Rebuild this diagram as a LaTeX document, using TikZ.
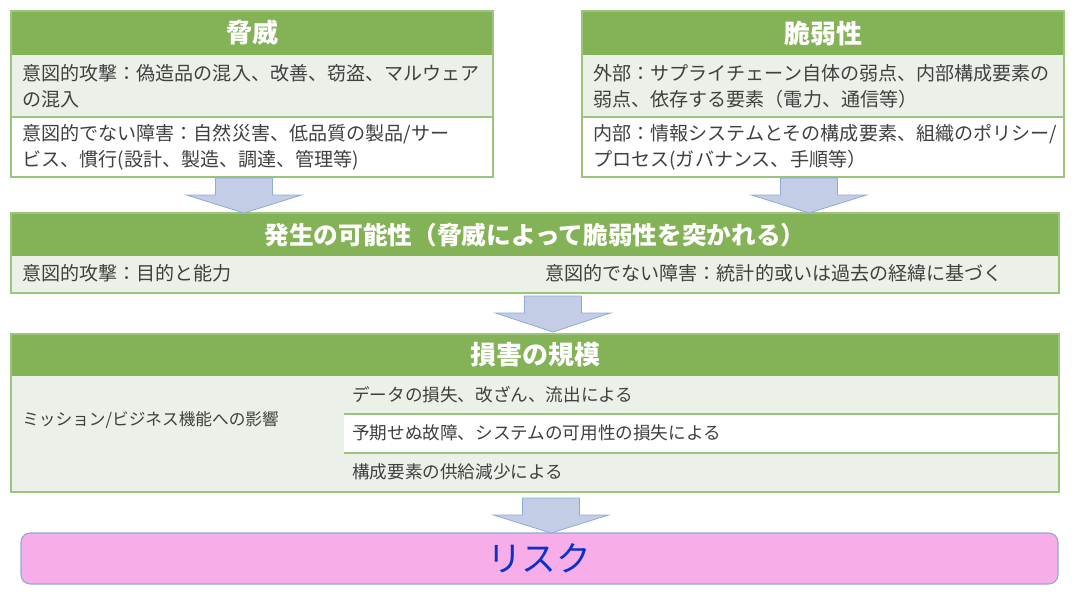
\documentclass[tikz,border=0pt]{standalone}
\usepackage{fontspec}
\setmainfont{Noto Sans CJK JP}
\definecolor{vertfonce}{HTML}{84B257}
\definecolor{vertclair}{HTML}{EBF0E8}
\definecolor{bordvert}{HTML}{9BC57A}
\definecolor{fleche}{HTML}{C3CEE6}
\definecolor{bordfleche}{HTML}{8EA9DB}
\definecolor{rose}{HTML}{F7AEE8}
\definecolor{bleurisque}{HTML}{0A32C8}
\definecolor{texte}{HTML}{404040}
\begin{document}
\begin{tikzpicture}[x=0.75pt,y=-0.75pt,
  titre/.style={text=white,font=\fontsize{19.5}{22}\selectfont\bfseries},
  corps/.style={anchor=west,align=left,inner sep=0pt,text=texte,font=\fontsize{14.3}{19.5}\selectfont},
  petit/.style={corps,font=\fontsize{13.2}{16}\selectfont},
  cadre/.style={draw=bordvert,line width=0.8pt}]
\useasboundingbox (0,0) rectangle (1075,593);

% Menace
\fill[vertfonce] (11,11) rectangle (493,55);
\fill[vertclair] (11,55) rectangle (493,117);
\draw[cadre] (11,11) rectangle (493,177);
\draw[cadre] (11,117) -- (493,117);
\node[titre] (menace) at (252,33) {脅威};
\node[corps] (menace1) at (22,86) {意図的攻撃：偽造品の混入、改善、窃盗、マルウェア\\の混入};
\node[corps] (menace2) at (22,147) {意図的でない障害：自然災害、低品質の製品/サー\\ビス、慣行(設計、製造、調達、管理等)};

% Vulnerabilite
\fill[vertfonce] (582,11) rectangle (1064,55);
\fill[vertclair] (582,55) rectangle (1064,117);
\draw[cadre] (582,11) rectangle (1064,177);
\draw[cadre] (582,117) -- (1064,117);
\node[titre] (vuln) at (823,33) {脆弱性};
\node[corps] (vuln1) at (593,86) {外部：サプライチェーン自体の弱点、内部構成要素の\\弱点、依存する要素（電力、通信等）};
\node[corps] (vuln2) at (593,147) {内部：情報システムとその構成要素、組織のポリシー/\\プロセス(ガバナンス、手順等）};

% Possibilite
\fill[vertfonce] (11,213) rectangle (1059,256);
\fill[vertclair] (11,256) rectangle (1059,293);
\draw[cadre] (11,213) rectangle (1059,293);
\node[titre,font=\fontsize{18.5}{22}\selectfont\bfseries] (possib) at (535,235) {発生の可能性（脅威によって脆弱性を突かれる）};
\node[corps] (possib1) at (22,273) {意図的攻撃：目的と能力};
\node[corps] (possib2) at (545,273) {意図的でない障害：統計的或いは過去の経緯に基づく};

% Dommages
\fill[vertfonce] (11,334) rectangle (1059,376);
\fill[vertclair] (11,376) rectangle (1059,492);
\fill[white] (344,414) rectangle (1059,453);
\draw[cadre] (11,334) rectangle (1059,492);
\draw[cadre] (344,414) -- (1059,414);
\draw[cadre] (344,453) -- (1059,453);
\node[titre] (dommage) at (535,355) {損害の規模};
\node[petit,font=\fontsize{12.5}{16}\selectfont] (mission) at (22,420) {ミッション/ビジネス機能への影響};
\node[petit] (dom1) at (352,395) {データの損失、改ざん、流出による};
\node[petit] (dom2) at (352,433) {予期せぬ故障、システムの可用性の損失による};
\node[petit] (dom3) at (352,472) {構成要素の供給減少による};

% Risque
\draw[draw=bordfleche,fill=rose,line width=0.8pt,rounded corners=7pt] (21,533) rectangle (1058,584);
\node[text=bleurisque,font=\fontsize{26}{28}\selectfont] (risque) at (539,558) {リスク};

% Fleches
\foreach \cx/\haut/\pointe in {244/178/213, 809/178/213, 553/296/332, 551/498/533}
  \draw[draw=bordfleche,fill=fleche,line width=0.6pt]
    (\cx-28.5,\haut) -- (\cx+28.5,\haut) -- (\cx+28.5,\haut+17) -- (\cx+57.5,\haut+17)
    -- (\cx,\pointe) -- (\cx-57.5,\haut+17) -- (\cx-28.5,\haut+17) -- cycle;

\end{tikzpicture}
\end{document}
